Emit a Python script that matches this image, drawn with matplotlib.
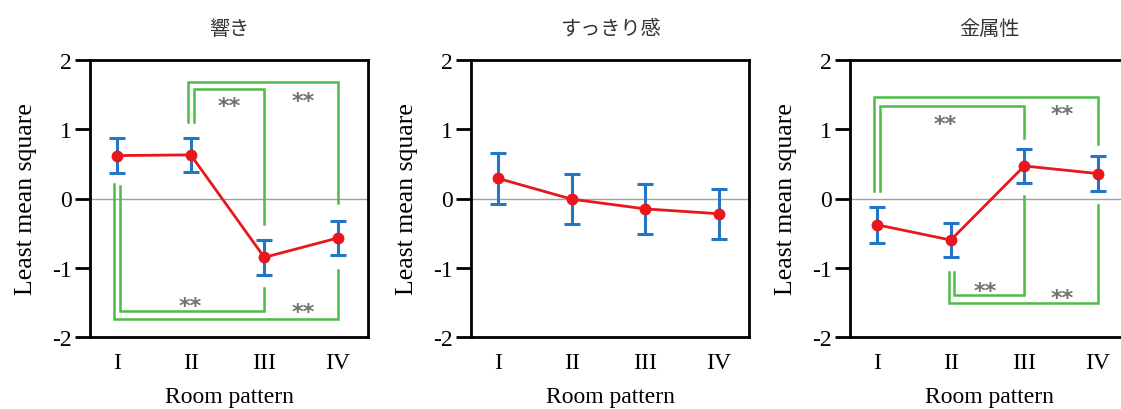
import matplotlib
matplotlib.use("Agg")
import matplotlib.pyplot as plt

plt.rcParams['font.family'] = ['Liberation Serif', 'DejaVu Serif']

# Data
patterns = ["I", "II", "III", "IV"]
x_pos = [1, 2, 3, 4]
titles = ["響き", "すっきり感", "金属性"]

hibiki_mean = [0.62, 0.63, -0.85, -0.57]
hibiki_err = [0.25, 0.25, 0.25, 0.25]

sukkiri_mean = [0.29, -0.01, -0.15, -0.22]
sukkiri_err = [0.37, 0.36, 0.36, 0.36]

kinzoku_mean = [-0.38, -0.60, 0.47, 0.36]
kinzoku_err = [0.26, 0.25, 0.25, 0.25]

means = [hibiki_mean, sukkiri_mean, kinzoku_mean]
errs = [hibiki_err, sukkiri_err, kinzoku_err]

# Significance brackets: (from, to, start_y, bar_y, end_y, left_offset)
hibiki_brackets = [
    (2, 3, 1.10, 1.58, -0.37, 0.04),
    (2, 4, 1.10, 1.68, -0.06, -0.035),
    (1, 3, 0.18, -1.62, -1.29, 0.04),
    (1, 4, 0.21, -1.74, -1.03, -0.05),
]
hibiki_stars = [(2.52, 1.41), (3.53, 1.48), (1.99, -1.48), (3.53, -1.56)]

kinzoku_brackets = [
    (1, 3, 0.11, 1.34, 0.88, 0.04),
    (1, 4, 0.11, 1.46, 0.79, -0.05),
    (2, 3, -1.06, -1.39, 0.04, 0.05),
    (2, 4, -1.06, -1.51, -0.10, -0.03),
]
kinzoku_stars = [(1.93, 1.15), (3.52, 1.29), (2.47, -1.26), (3.52, -1.36)]

brackets = [hibiki_brackets, [], kinzoku_brackets]
stars = [hibiki_stars, [], kinzoku_stars]

RED = "#e8171c"
BLUE = "#2276c4"
GREEN = "#4dbb48"

fig = plt.figure(figsize=(11.21, 4.10), dpi=100)
lefts = [90, 471, 850]
W, H = 1121, 410

for i in range(3):
    ax = fig.add_axes([lefts[i] / W, (H - 338) / H, 278 / W, 277 / H])
    ax.set_xlim(0.63, 4.41)
    ax.set_ylim(-2, 2)
    ax.axhline(0, color="#a0a0a0", lw=1.0, zorder=1)

    for (a, b, y0, yb, y1, off) in brackets[i]:
        ax.plot([a + off, a + off, b, b], [y0, yb, yb, y1],
                color=GREEN, lw=1.8, zorder=2, solid_joinstyle="miter")
    for (sx, sy) in stars[i]:
        ax.annotate("**", xy=(sx, sy), xytext=(0, -8),
                    textcoords="offset points", ha="center", va="baseline",
                    fontsize=16, fontweight="bold", color="#707070",
                    family=["DejaVu Sans"], zorder=3)

    ax.errorbar(x_pos, means[i], yerr=errs[i], fmt="none", ecolor=BLUE,
                elinewidth=2.2, capsize=6, capthick=2.2, zorder=4)
    ax.plot(x_pos, means[i], color=RED, lw=2, marker="o", markersize=7.5,
            zorder=5)

    ax.set_xticks(x_pos)
    ax.set_xticklabels(patterns, fontsize=17)
    ax.tick_params(axis="x", length=0, pad=11)
    ax.set_yticks([-2, -1, 0, 1, 2])
    ax.set_yticklabels(["-2", "-1", "0", "1", "2"], fontsize=17)
    ax.tick_params(axis="y", length=11, width=2, pad=2, direction="out")
    for s in ax.spines.values():
        s.set_linewidth(2)
    ax.set_xlabel("Room pattern", fontsize=17, labelpad=9)
    ax.set_ylabel("Least mean square", fontsize=18.5, labelpad=11)
    ax.set_title(titles[i], fontsize=14.5, color="#333333",
                 family=["Noto Sans CJK JP"], pad=19)

fig.savefig("out.png", dpi=100)
